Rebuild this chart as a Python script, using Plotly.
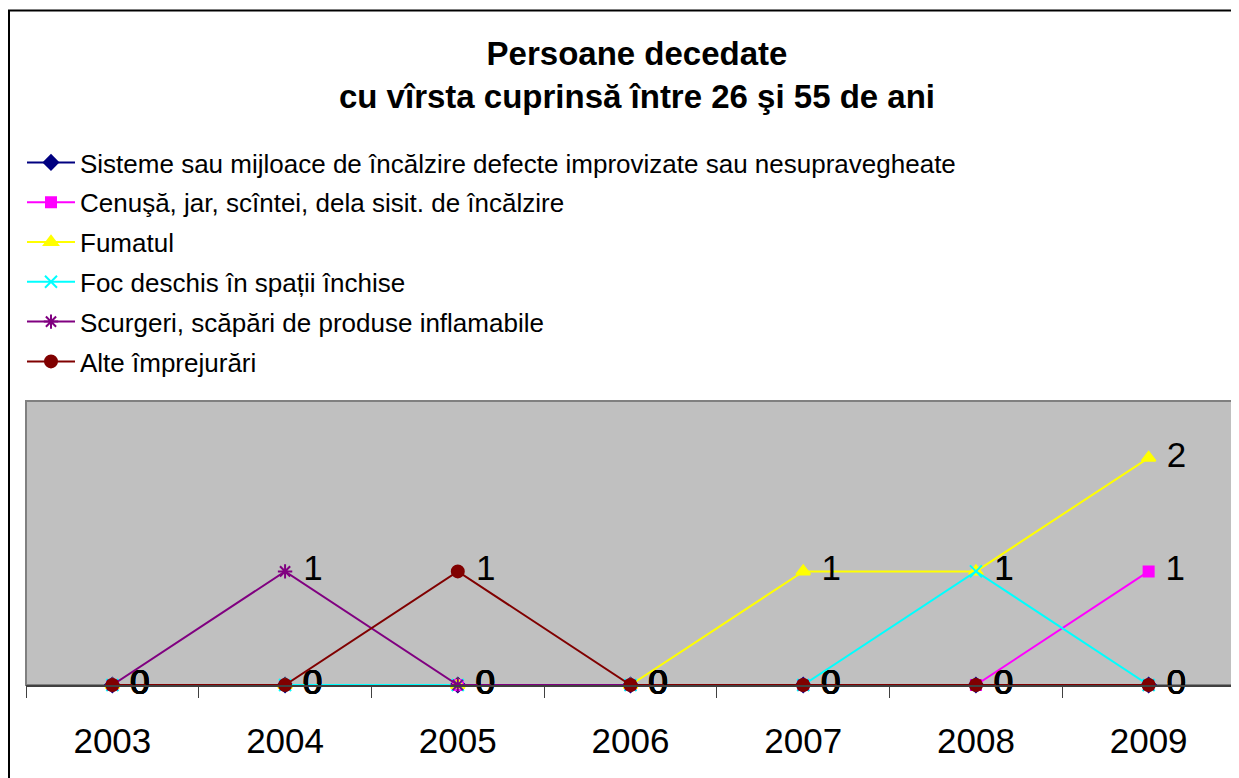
import plotly.graph_objects as go

years = ["2003", "2004", "2005", "2006", "2007", "2008", "2009"]

series_names = [
    "Sisteme sau mijloace de încălzire defecte improvizate sau nesupravegheate",
    "Cenuşă, jar, scîntei, dela sisit. de încălzire",
    "Fumatul",
    "Foc deschis în spații închise",
    "Scurgeri, scăpări de produse inflamabile",
    "Alte împrejurări",
]

sisteme = [0, 0, 0, 0, 0, 0, 0]
cenusa = [0, 0, 0, 0, 0, 0, 1]
fumatul = [0, 0, 0, 0, 1, 1, 2]
foc = [0, 0, 0, 0, 0, 1, 0]
scurgeri = [0, 1, 0, 0, 0, 0, 0]
alte = [0, 0, 1, 0, 0, 0, 0]

values = [sisteme, cenusa, fumatul, foc, scurgeri, alte]
colors = ["#000080", "#FF00FF", "#FFFF00", "#00FFFF", "#800080", "#800000"]
symbols = ["diamond", "square", "triangle-up", "x-thin-open", "asterisk-open", "circle"]
sizes = [11, 10, 12, 12, 12, 12]

FONT = "Liberation Sans, Arial, sans-serif"

fig = go.Figure()
for i, (name, vals) in enumerate(zip(series_names, values)):
    fig.add_trace(go.Scatter(
        x=years, y=vals, name=name, legendgroup=f"g{i}",
        mode="lines+markers+text",
        text=[" " + str(v) for v in vals],
        textposition="middle right",
        textfont=dict(family=FONT, size=35, color="#000000"),
        line=dict(color=colors[i], width=2),
        marker=dict(symbol=symbols[i], color=colors[i], size=sizes[i],
                    line=dict(color=colors[i], width=2)),
        cliponaxis=False,
    ))

# page body has an 8px margin: work in screen pixels and shift
OFF = 8
SW, SH = 1239, 778
W, H = SW - OFF, SH - OFF
L, R, T, B = 26, 1235, 401, 685  # plot area in screen px
pw, ph = R - L, B - T

def px_x(x):
    return (x - L) / pw

def px_y(y):
    return (B - y) / ph

fig.update_layout(
    width=W, height=H,
    margin=dict(l=L - OFF, r=W - (R - OFF), t=T - OFF, b=H - (B - OFF), pad=0),
    paper_bgcolor="#FFFFFF",
    plot_bgcolor="#C0C0C0",
    font=dict(family=FONT, color="#000000"),
    title=dict(
        text="<b>Persoane decedate<br>cu vîrsta cuprinsă între 26 şi 55 de ani</b>",
        font=dict(family=FONT, size=33, color="#000000"),
        x=px_x(637), xref="paper", xanchor="center",
        y=1 - (65 - OFF) / H, yref="container", yanchor="top",
    ),
    showlegend=True,
    legend=dict(
        x=px_x(22), xanchor="left", xref="paper",
        y=px_y(139), yanchor="top", yref="paper",
        font=dict(family=FONT, size=26, color="#000000"),
        bgcolor="rgba(0,0,0,0)", borderwidth=0,
        tracegroupgap=3, itemwidth=48,
    ),
    xaxis=dict(
        type="category",
        range=[-0.5, 6.5],
        showgrid=False, zeroline=False,
        showline=True, linecolor="#404040", linewidth=2,
        ticks="outside", tickson="boundaries", ticklen=11, tickcolor="#404040", tickwidth=1,
        tickfont=dict(family=FONT, size=35, color="#000000"),
        ticklabelstandoff=24,
    ),
    yaxis=dict(
        range=[0, 2.5],
        showgrid=False, zeroline=False, showticklabels=False,
        showline=False, ticks="",
    ),
    shapes=[
        dict(type="rect", xref="paper", yref="paper", x0=0, x1=1, y0=0, y1=1,
             line=dict(color="#808080", width=2), layer="below"),
        dict(type="rect", xref="paper", yref="paper",
             x0=px_x(9), x1=px_x(1260), y0=px_y(800), y1=px_y(10.5),
             line=dict(color="#000000", width=2)),
    ],
)

fig.write_html("out.html")
